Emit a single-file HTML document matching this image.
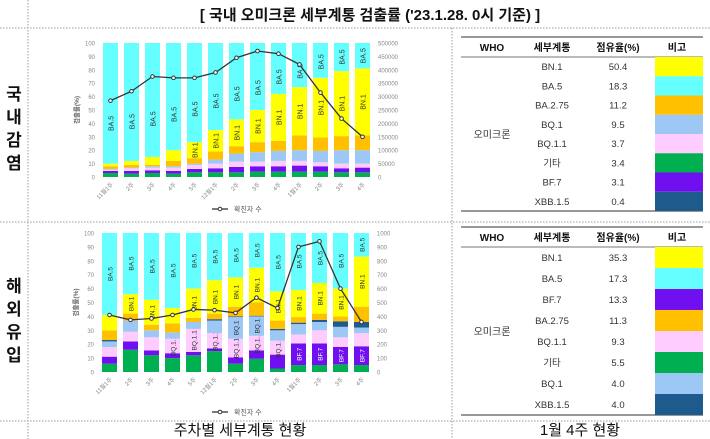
<!DOCTYPE html>
<html><head><meta charset="utf-8"><style>
html,body{margin:0;padding:0;background:#fff;}
svg{display:block;font-family:"Liberation Sans","Noto Sans CJK KR",sans-serif;}
</style></head><body>
<svg id="root" width="710" height="439" viewBox="0 0 710 439">
<g stroke="#999" stroke-dasharray="1.5,1.5" stroke-width="1">
<line x1="0" y1="28" x2="710" y2="28"/><line x1="0" y1="222" x2="710" y2="222"/><line x1="0" y1="421" x2="710" y2="421"/>
<line x1="28" y1="0" x2="28" y2="439"/><line x1="452" y1="28" x2="452" y2="439"/>
</g>
<text x="370" y="20" text-anchor="middle" font-size="15" font-weight="bold" fill="#111">[ 국내 오미크론 세부계통 검출률 ('23.1.28. 0시 기준) ]</text>
<g font-size="17" font-weight="bold" text-anchor="middle" fill="#111">
<text x="14" y="100">국</text><text x="14" y="123">내</text><text x="14" y="146">감</text><text x="14" y="169">염</text></g>
<g font-size="17" font-weight="bold" text-anchor="middle" fill="#111">
<text x="14" y="292">해</text><text x="14" y="315">외</text><text x="14" y="338">유</text><text x="14" y="361">입</text></g>
<text x="240" y="435" text-anchor="middle" font-size="15" fill="#111">주차별 세부계통 현황</text>
<text x="580" y="435" text-anchor="middle" font-size="15" fill="#111">1월 4주 현황</text>
<g id="charts"></g>
<g id="tables"></g>
</svg>
<script>
const weeks = ["11월1주","2주","3주","4주","5주","12월1주","2주","3주","4주","1월1주","2주","3주","4주"];
const leftTicks = [0,10,20,30,40,50,60,70,80,90,100];
const seriesNames = ["기타","BF.7","BQ.1.1","BQ.1","XBB.1.5","BA.2.75","BN.1","BA.5"];
const seriesColors = ["#00b050","#7010f0","#ffccff","#9dc8f5","#1f5a8c","#ffc000","#ffff00","#66ffff"];
// domestic shares
const domOther = [3,2.5,3,2.5,3.5,3.5,3.5,4,4,4,4,3.5,3.5];
const domBF7 = [1.5,2,2,2,2.5,3,4,4,4,4.5,4,3,3.5];
const domBQ11 = [1,2,2,2.5,3,3.5,4,3.5,4,3.5,3,3.5,3];
const domBQ1 = [0.5,0.5,1,1,1,3,6,7,7.5,8,8.5,10,10];
const domXBB = [0,0,0,0,0,0,0,0,0,0,0,0,0];
const domBA275 = [2,2,1,4,4,6,5.5,7.5,7.5,11,10,10.5,11];
const domBN1 = [2,3,6,8,12,16,20,24,35,36,44.5,48.5,50];
const domCases = [285000,320000,375000,370000,370000,390000,445000,470000,460000,420000,315000,218000,150000];
const domRightTicks = [0,50000,100000,150000,200000,250000,300000,350000,400000,450000,500000];
// overseas shares
const ovOther = [6,16,12,10,12,15,6,9.5,2.5,5,5,5.5,5];
const ovBF7 = [5,6,3.5,3.5,2.5,2,4.5,6,10,15.5,15.5,12.5,13.5];
const ovBQ11 = [7,7,9.5,10.5,16.5,11,13.5,10.5,10,6.5,9.5,7,9.5];
const ovBQ1 = [4,8,5,4.5,5,9,15.5,14,7.5,7.5,6,7.5,4];
const ovXBB = [1,0,0,0,0,1,0.5,0.5,1,1,1.5,4,4];
const ovBA275 = [7,5,4,6.5,3,4,7,9.5,6,4,4.5,3.5,11];
const ovBN1 = [11,14,18,11,21,24,21,25,21,19.5,22,20,36];
const ovCases = [410,375,385,410,450,445,425,535,460,900,940,600,360];
const ovRightTicks = [0,100,200,300,400,500,600,700,800,900,1000];
// tables
const t1Names = ["BN.1","BA.5","BA.2.75","BQ.1","BQ.1.1","기타","BF.7","XBB.1.5"];
const t1Vals = ["50.4","18.3","11.2","9.5","3.7","3.4","3.1","0.4"];
const t1Colors = ["#ffff00","#66ffff","#ffc000","#9dc8f5","#ffccff","#00b050","#7010f0","#1f5a8c"];
const t2Names = ["BN.1","BA.5","BF.7","BA.2.75","BQ.1.1","기타","BQ.1","XBB.1.5"];
const t2Vals = ["35.3","17.3","13.3","11.3","9.3","5.5","4.0","4.0"];
const t2Colors = ["#ffff00","#66ffff","#7010f0","#ffc000","#ffccff","#00b050","#9dc8f5","#1f5a8c"];

const NS="http://www.w3.org/2000/svg";
function mk(tag,attrs,parent){const e=document.createElementNS(NS,tag);for(const k in attrs)e.setAttribute(k,attrs[k]);parent.appendChild(e);return e;}

function drawChart(cfg){
  const g=mk('g',{},document.getElementById('charts'));
  
  
  const y=v=>cfg.y0-(v/100)*(cfg.y0-cfg.y100);
  const yR=v=>cfg.y0-(v/cfg.rmax)*(cfg.y0-cfg.y100);
  const x=i=>cfg.x0+i*cfg.step;
  leftTicks.forEach(t=>{
    const tx=mk('text',{x:cfg.x0-8,y:y(t)+2.5,'text-anchor':'end','font-size':6,fill:'#888'},g);
    tx.textContent=t;
    
    
  });
  cfg.rticks.forEach(t=>{
    const tx=mk('text',{x:cfg.x0+12*cfg.step+cfg.bw+8,y:yR(t)+2.5,'font-size':6,fill:'#888'},g);
    tx.textContent=t;
    
    
  });
  const yt=mk('text',{x:0,y:0,transform:`translate(${cfg.x0-24},${(cfg.y0+cfg.y100)/2}) rotate(-90)`,'text-anchor':'middle','font-size':6.5,'font-weight':'bold',fill:'#666'},g);
  yt.textContent='검출률(%)';
  
  
  weeks.forEach((w,i)=>{
    let acc=0;
    const series=cfg.series.slice();
    const sum=series.reduce((s,a)=>s+a[i],0);
    series.push(weeks.map(()=>100-sum));
    series.forEach((arr,k)=>{
      const v=arr[i]; if(v<=0){return;}
      const r=mk('rect',{x:x(i),y:y(acc+v),width:cfg.bw,height:y(acc)-y(acc+v),fill:seriesColors[k]},g);
      
      
      const th=cfg.labelTh[k];
      if(th!==undefined && v>=th){
        const off=(k===7&&cfg.lowLabel)?Math.min(v/2,Math.max(12,v/3)):v/2;
        const cy=y(acc+off), cx=x(i)+cfg.bw/2+3;
        const lt=mk('text',{x:0,y:0,transform:`translate(${cx},${cy}) rotate(-90)`,'text-anchor':'middle','font-size':cfg.lfs,fill:k===1?'#fff':'#333'},g);
        lt.textContent=seriesNames[k];
        
        
      }
      acc+=v;
    });
    const xl=mk('text',{x:0,y:0,transform:`translate(${x(i)+cfg.bw/2+3},${cfg.y0+8}) rotate(-45)`,'text-anchor':'end','font-size':6,fill:'#888'},g);
    xl.textContent=w;
    
    
  });
  const pts=cfg.cases.map((c,i)=>`${x(i)+cfg.bw/2},${yR(c)}`).join(' ');
  const pl=mk('polyline',{points:pts,fill:'none',stroke:'#333','stroke-width':1.3},g);
  
  
  cfg.cases.forEach((c,i)=>{
    const p=mk('circle',{cx:x(i)+cfg.bw/2,cy:yR(c),r:1.8,fill:'#fff',stroke:'#333','stroke-width':1},g);
    
    
  });
  const lg=mk('g',{},g);
  
  
  mk('line',{x1:212,y1:cfg.ly,x2:228,y2:cfg.ly,stroke:'#333','stroke-width':1.3},lg);
  mk('circle',{cx:220,cy:cfg.ly,r:1.8,fill:'#fff',stroke:'#333'},lg);
  const lt=mk('text',{x:234,y:cfg.ly+2.5,'font-size':7,fill:'#555'},lg);
  lt.textContent='확진자 수';
}
drawChart({name:'domestic-chart',x0:103,step:21,bw:15,y0:177,y100:43,rmax:500000,rticks:domRightTicks,
  series:[domOther,domBF7,domBQ11,domBQ1,domXBB,domBA275,domBN1],cases:domCases,ly:209,lfs:7,lowLabel:true,
  labelTh:[undefined,undefined,undefined,undefined,undefined,undefined,10,5]});
drawChart({name:'overseas-chart',x0:102,step:21,bw:15,y0:372,y100:233,rmax:1000,rticks:ovRightTicks,
  series:[ovOther,ovBF7,ovBQ11,ovBQ1,ovXBB,ovBA275,ovBN1],cases:ovCases,ly:412,lfs:6.5,lowLabel:false,
  labelTh:[undefined,12,10,14,undefined,undefined,11.5,5]});

function drawTable(name,top,hb,rh,names,vals,colors){
  const g=mk('g',{},document.getElementById('tables'));
  
  
  const bottom=hb+rh*8;
  mk('line',{x1:461,y1:top,x2:703,y2:top,stroke:'#777','stroke-width':1.5},g);
  mk('line',{x1:461,y1:hb,x2:703,y2:hb,stroke:'#777','stroke-width':1},g);
  mk('line',{x1:461,y1:bottom,x2:703,y2:bottom,stroke:'#777','stroke-width':1.5},g);
  const hy=(top+hb)/2+4;
  [["WHO",492],["세부계통",552],["점유율(%)",618],["비고",677]].forEach(([t,cx])=>{
    const e=mk('text',{x:cx,y:hy,'text-anchor':'middle','font-size':10,'font-weight':'bold',fill:'#111'},g);
    e.textContent=t;
    
    
  });
  const w=mk('text',{x:492,y:(hb+bottom)/2+4,'text-anchor':'middle','font-size':10,fill:'#333'},g);
  w.textContent='오미크론';
  names.forEach((n,i)=>{
    const ry=hb+i*rh;
    const a=mk('text',{x:552,y:ry+rh/2+3.5,'text-anchor':'middle','font-size':9.5,fill:'#333'},g);
    a.textContent=n;
    
    
    const b=mk('text',{x:618,y:ry+rh/2+3.5,'text-anchor':'middle','font-size':9.5,fill:'#333'},g);
    b.textContent=vals[i];
    
    
    const s=mk('rect',{x:655,y:ry,width:48,height:rh,fill:colors[i]},g);
    
    
  });
}
drawTable('domestic-table',37,57,19.25,t1Names,t1Vals,t1Colors);
drawTable('overseas-table',227,247,21,t2Names,t2Vals,t2Colors);
</script>
</body></html>
